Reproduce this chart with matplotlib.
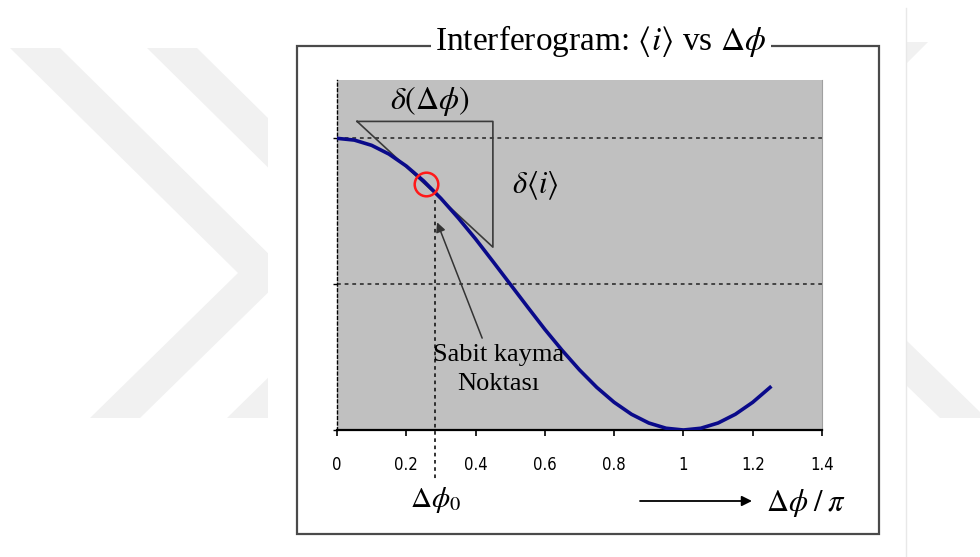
import matplotlib
matplotlib.use("Agg")
import matplotlib.pyplot as plt
from matplotlib.font_manager import FontProperties
from matplotlib.patches import Polygon, Rectangle

# ── data ─────────────────────────────────────────────────────────────────────
# normalised mean intensity <i> against phase difference Δφ/π
PHASE = [0.00, 0.05, 0.10, 0.15, 0.20, 0.25, 0.30, 0.35, 0.40, 0.45, 0.50,
         0.55, 0.60, 0.65, 0.70, 0.75, 0.80, 0.85, 0.90, 0.95, 1.00,
         1.05, 1.10, 1.15, 1.20, 1.25]
INTENSITY = [1.000, 0.994, 0.976, 0.946, 0.905, 0.854, 0.794, 0.727, 0.655,
             0.578, 0.500, 0.422, 0.345, 0.273, 0.206, 0.146, 0.095, 0.054,
             0.024, 0.006, 0.000, 0.006, 0.024, 0.054, 0.095, 0.146]

XTICKS = [0, 0.2, 0.4, 0.6, 0.8, 1.0, 1.2, 1.4]
XTICK_LABELS = ["0", "0.2", "0.4", "0.6", "0.8", "1", "1.2", "1.4"]
YTICKS = [0, 0.5, 1.0]
GRID_LEVELS = [0.5, 1.0]

OP_POINT = (0.257, 0.842)        # red circle on the curve
OP_DROP_X = 0.283                # dotted drop line down to Δφ0
TRIANGLE_X = [0.058, 0.450, 0.450, 0.058]
TRIANGLE_Y = [1.058, 1.058, 0.627, 1.058]
NOTE_FROM = (0.419, 0.315)
NOTE_TO = (0.289, 0.712)

W, H = 980, 557

plt.rcParams.update({
    "font.family": ["Liberation Serif", "DejaVu Serif"],
    "mathtext.fontset": "stix",
})

fig = plt.figure(figsize=(W / 100, H / 100), dpi=100)

# ── page background: faint watermark chevrons, white pasted area, frame ──────
bg = fig.add_axes([0, 0, 1, 1], zorder=0)
bg.set_xlim(0, W)
bg.set_ylim(H, 0)
bg.axis("off")

wm = "#f1f1f1"
chevron = [(10, 48), (60, 48), (288, 273), (140, 418), (90, 418), (238, 273)]
for dx in (0, 137):
    bg.add_patch(Polygon([(x + dx, y) for x, y in chevron], closed=True,
                         fc=wm, ec="none"))
bg.add_patch(Polygon([(906, 340), (980, 412), (980, 418), (940, 418), (906, 385)],
                     closed=True, fc=wm, ec="none"))
bg.add_patch(Polygon([(906, 42), (928, 42), (906, 64)], closed=True, fc=wm, ec="none"))
bg.add_patch(Rectangle((268, 0), 638, H, fc="white", ec="none"))
bg.plot([906, 906], [8, H], color="#e8e8e8", lw=1)

bg.add_patch(Rectangle((297, 46), 582, 488, fill=False, ec="#4a4a4a", lw=1.6))
bg.text(601, 41, r"Interferogram: $\langle i\rangle$ vs $\Delta\phi$",
        ha="center", va="center", fontsize=24,
        bbox=dict(fc="white", ec="none", pad=3))

# x-axis hint under the frame
bg.annotate("", xy=(752, 501), xytext=(640, 501),
            arrowprops=dict(arrowstyle="-|>", color="black", lw=1.3,
                            mutation_scale=15, shrinkA=0, shrinkB=0))
bg.text(806, 503, r"$\Delta\phi\;/\;\pi$", ha="center", va="center", fontsize=22)

# ── plot area ────────────────────────────────────────────────────────────────
ax = fig.add_axes([337 / W, 1 - 430 / H, (822 - 337) / W, (430 - 80) / H], zorder=1)
ax.set_facecolor("#c0c0c0")

for lvl in GRID_LEVELS:
    ax.axhline(lvl, color="#222222", lw=1.1, ls=(0, (2.5, 2.5)), zorder=1)

ax.plot(PHASE, INTENSITY, color="#0a0a8a", lw=2.6, zorder=3)

ax.set_xlim(0, 1.4)
ax.set_ylim(0, 1.2)
ax.set_xticks(XTICKS)
tick_font = FontProperties(family=["Liberation Sans Narrow", "DejaVu Sans"],
                           stretch="condensed", size=12)
ax.set_xticklabels(XTICK_LABELS, fontproperties=tick_font)
ax.set_yticks(YTICKS)
ax.set_yticklabels([])
ax.tick_params(axis="x", direction="out", length=4, width=1.2, pad=15)
ax.tick_params(axis="y", direction="out", length=3, width=1.0)

ax.spines["top"].set_visible(False)
ax.spines["right"].set_color("#a0a0a0")
ax.spines["bottom"].set_linewidth(1.6)
ax.spines["left"].set_linestyle((0, (2, 2)))
ax.spines["left"].set_linewidth(1.0)

# slope triangle
ax.plot(TRIANGLE_X, TRIANGLE_Y, color="#3a3a3a", lw=1.2, zorder=2, clip_on=False)
ax.text(0.268, 1.127, r"$\delta\left(\Delta\phi\right)$", ha="center", va="center",
        fontsize=23)
ax.text(0.572, 0.839, r"$\delta\left\langle i\right\rangle$", ha="center", va="center",
        fontsize=22)

# operating point
ax.plot(*OP_POINT, marker="o", ms=17, mfc="none", mec="#ff1a1a", mew=1.8, zorder=4)
ax.plot([OP_DROP_X, OP_DROP_X], [0.79, -0.17], color="#222222", lw=1.3,
        ls=(0, (2, 2)), zorder=2, clip_on=False)
ax.text(OP_DROP_X, -0.24, r"$\Delta\phi_0$", ha="center", va="center",
        fontsize=21, clip_on=False)

ax.annotate("", xy=NOTE_TO, xytext=NOTE_FROM,
            arrowprops=dict(arrowstyle="-|>", color="#333333", lw=1.1,
                            mutation_scale=14, shrinkA=0, shrinkB=0))
ax.text(0.465, 0.207, "Sabit kayma\nNoktası", ha="center", va="center",
        fontsize=19, linespacing=1.4)

fig.savefig("out.png", dpi=100)
